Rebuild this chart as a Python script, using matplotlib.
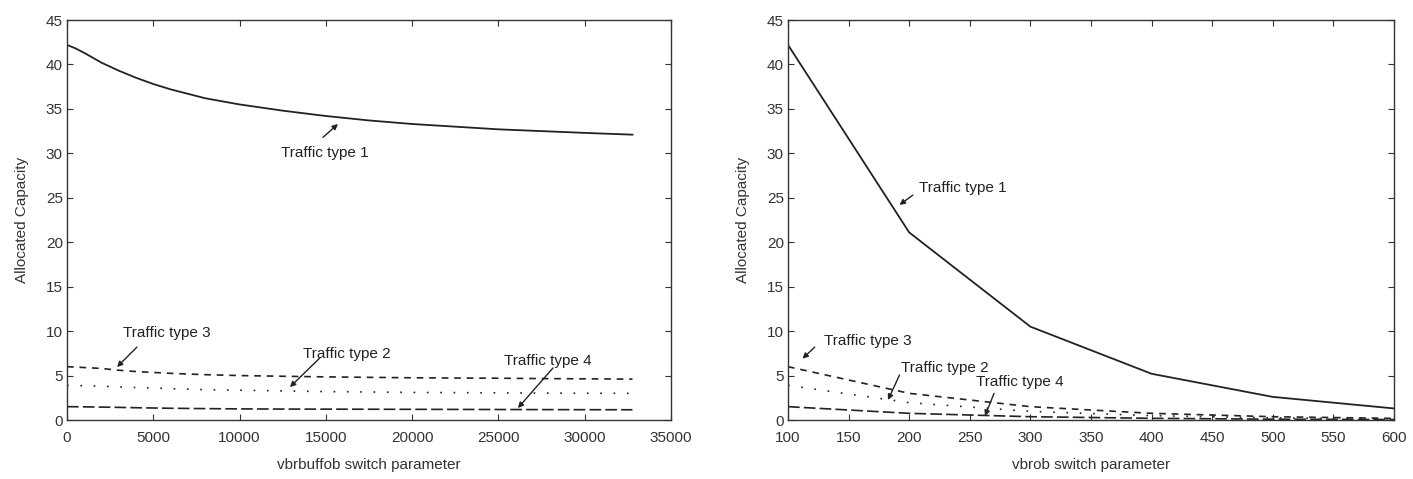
import matplotlib
matplotlib.use("Agg")
import matplotlib.pyplot as plt

plt.rcParams['font.family'] = ['Liberation Sans', 'DejaVu Sans']

# ---- Left panel data (vbrbuffob switch parameter) ----
left_x = [0, 500, 1000, 2000, 3000, 4000, 5000, 6000, 8000, 10000, 12500, 15000,
          17500, 20000, 22500, 25000, 27500, 30000, 32768]
left_type1 = [42.2, 41.8, 41.3, 40.2, 39.3, 38.5, 37.8, 37.2, 36.2, 35.5, 34.8, 34.2,
              33.7, 33.3, 33.0, 32.7, 32.5, 32.3, 32.1]
left_type3 = [6.0, 5.95, 5.9, 5.8, 5.6, 5.45, 5.35, 5.25, 5.1, 5.0, 4.92, 4.85,
              4.8, 4.75, 4.72, 4.7, 4.66, 4.63, 4.6]
left_type2 = [3.9, 3.88, 3.85, 3.8, 3.72, 3.65, 3.6, 3.52, 3.42, 3.35, 3.27, 3.2,
              3.15, 3.1, 3.08, 3.05, 3.03, 3.01, 3.0]
left_type4 = [1.5, 1.49, 1.48, 1.45, 1.42, 1.38, 1.35, 1.32, 1.28, 1.25, 1.23, 1.22,
              1.21, 1.2, 1.19, 1.18, 1.17, 1.16, 1.15]

# ---- Right panel data (vbrob switch parameter) ----
right_x = [100, 200, 300, 400, 500, 600]
right_type1 = [42.2, 21.1, 10.5, 5.2, 2.6, 1.3]
right_type3 = [6.0, 3.0, 1.5, 0.75, 0.37, 0.18]
right_type2 = [3.9, 1.95, 0.97, 0.49, 0.24, 0.12]
right_type4 = [1.5, 0.75, 0.37, 0.19, 0.09, 0.05]

left_xticks = [0, 5000, 10000, 15000, 20000, 25000, 30000, 35000]
right_xticks = [100, 150, 200, 250, 300, 350, 400, 450, 500, 550, 600]
yticks = [0, 5, 10, 15, 20, 25, 30, 35, 40, 45]

ylabel = "Allocated Capacity"
left_xlabel = "vbrbuffob switch parameter"
right_xlabel = "vbrob switch parameter"

# annotations: (label, text_xy, arrow_tail_xy, arrow_tip_xy)
left_notes = [
    ("Traffic type 1", (14950, 30.0), (14835, 31.8), (15700, 33.3)),
    ("Traffic type 3", (5800, 9.8), (4050, 8.2), (2900, 5.96)),
    ("Traffic type 2", (16230, 7.4), (14660, 7.0), (12920, 3.7)),
    ("Traffic type 4", (27870, 6.6), (28160, 5.85), (26130, 1.35)),
]
right_notes = [
    ("Traffic type 1", (244, 26.1), (203, 25.3), (192, 24.2)),
    ("Traffic type 3", (166, 8.9), (122, 8.2), (112, 6.9)),
    ("Traffic type 2", (229.5, 5.85), (192, 5.06), (182.5, 2.25)),
    ("Traffic type 4", (291, 4.3), (270, 3.0), (262.5, 0.45)),
]

W, H = 1413, 479
FS = 11
fig = plt.figure(figsize=(W / 100, H / 100), dpi=100)
ax1 = fig.add_axes([67 / W, (H - 420) / H, 604 / W, 400 / H])
ax2 = fig.add_axes([788 / W, (H - 420) / H, 606 / W, 400 / H])

lc = '#222222'
styles = {
    't1': dict(color=lc, lw=1.3, linestyle='-'),
    't3': dict(color=lc, lw=1.2, linestyle=(0, (4, 3.5))),
    't2': dict(color=lc, lw=1.2, linestyle=(0, (1, 7))),
    't4': dict(color=lc, lw=1.2, linestyle=(0, (7, 2.5))),
}


def draw(ax, x, t1, t2, t3, t4, xticks, xlabel, notes):
    ax.plot(x, t1, **styles['t1'])
    ax.plot(x, t3, **styles['t3'])
    ax.plot(x, t2, **styles['t2'])
    ax.plot(x, t4, **styles['t4'])
    ax.set_xlim(xticks[0], xticks[-1])
    ax.set_ylim(0, 45)
    ax.set_xticks(xticks)
    ax.set_yticks(yticks)
    ax.tick_params(direction='in', top=True, right=True, length=4,
                   labelsize=FS, labelcolor='#333333', color='#333333')
    ax.tick_params(axis='x', pad=8)
    ax.tick_params(axis='y', pad=3)
    for s in ax.spines.values():
        s.set_color('#333333')
        s.set_linewidth(1.0)
    ax.set_xlabel(xlabel, fontsize=FS, color='#333333', labelpad=9)
    ax.set_ylabel(ylabel, fontsize=FS, color='#333333', labelpad=12)
    for label, txy, tail, tip in notes:
        ax.text(txy[0], txy[1], label, fontsize=FS, color='#222222',
                ha='center', va='center')
        ax.annotate('', xy=tip, xytext=tail,
                    arrowprops=dict(arrowstyle='-|>', color='#222222', lw=1.0,
                                    mutation_scale=8, shrinkA=0, shrinkB=0))


draw(ax1, left_x, left_type1, left_type2, left_type3, left_type4,
     left_xticks, left_xlabel, left_notes)
draw(ax2, right_x, right_type1, right_type2, right_type3, right_type4,
     right_xticks, right_xlabel, right_notes)

fig.savefig('out.png', dpi=100)
